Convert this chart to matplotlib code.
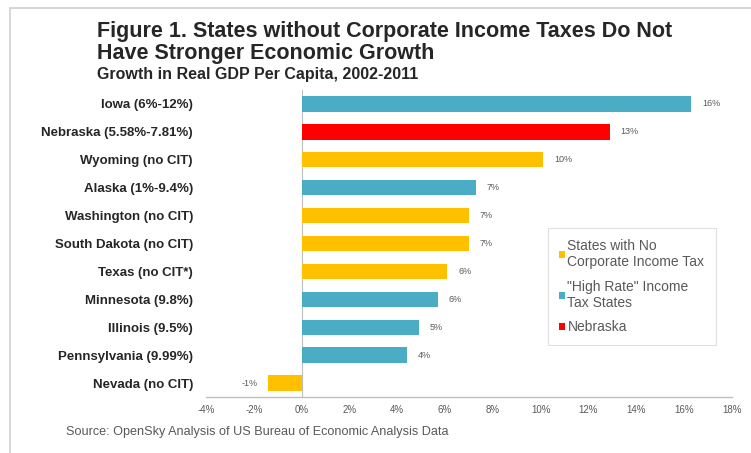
import matplotlib

matplotlib.use("Agg")
import matplotlib.pyplot as plt
from matplotlib.patches import Patch, Rectangle

plt.rcParams["font.family"] = ["Liberation Sans", "DejaVu Sans"]

# data, top to bottom
states = [
    "Iowa (6%-12%)",
    "Nebraska (5.58%-7.81%)",
    "Wyoming (no CIT)",
    "Alaska (1%-9.4%)",
    "Washington (no CIT)",
    "South Dakota (no CIT)",
    "Texas (no CIT*)",
    "Minnesota (9.8%)",
    "Illinois (9.5%)",
    "Pennsylvania (9.99%)",
    "Nevada (no CIT)",
]
growth = [16.3, 12.9, 10.1, 7.3, 7.0, 7.0, 6.1, 5.7, 4.9, 4.4, -1.4]
group = ["high", "ne", "none", "high", "none", "none", "none", "high", "high", "high", "none"]
xticks = list(range(-4, 19, 2))

BLUE = "#4BACC6"
RED = "#FF0000"
GOLD = "#FFC000"
GRAY = "#595959"
DARK = "#262626"
group_colors = {"none": GOLD, "high": BLUE, "ne": RED}
legend_labels = [
    ("none", "States with No\nCorporate Income Tax"),
    ("high", "\"High Rate\" Income\nTax States"),
    ("ne", "Nebraska"),
]

fig = plt.figure(figsize=(7.51, 4.53), dpi=100, facecolor="white")

# outer frame
fig.patches.append(Rectangle((10 / 751, -0.1), 1.2, 1 - 8 / 453 + 0.1,
                             transform=fig.transFigure, fill=False,
                             edgecolor="#CFCFCF", lw=1.2))

ax = fig.add_axes([206 / 751, 1 - 397 / 453, 526 / 751, 307 / 453])
y = list(range(len(states)))
colors = [group_colors[g] for g in group]
ax.barh(y, growth, height=0.55, color=colors, zorder=3)
ax.set_ylim(len(states) - 0.5, -0.5)
ax.set_xlim(-4, 18)
ax.axvline(0, color="#BFBFBF", lw=0.8, zorder=2)

for yi, v in zip(y, growth):
    label = f"{round(v):d}%"
    if v >= 0:
        ax.text(v + 0.45, yi, label, ha="left", va="center", fontsize=6.5, color=GRAY)
    else:
        ax.text(v - 0.45, yi, label, ha="right", va="center", fontsize=6.5, color=GRAY)

ax.set_yticks(y)
ax.set_yticklabels(states, fontsize=9.5, fontweight="bold", color=DARK)
ax.set_xticks(xticks)
ax.set_xticklabels([f"{t}%" for t in xticks], fontsize=7, color=GRAY)
ax.tick_params(axis="both", length=0)
ax.tick_params(axis="y", pad=9.4)
ax.tick_params(axis="x", pad=6)
for side in ("top", "right", "left"):
    ax.spines[side].set_visible(False)
ax.spines["bottom"].set_color("#BFBFBF")
ax.spines["bottom"].set_linewidth(1.0)

handles = [Patch(facecolor=group_colors[k], edgecolor="none") for k, _ in legend_labels]
leg = fig.legend(handles, [t for _, t in legend_labels],
                 loc="upper left", bbox_to_anchor=(548 / 751, 1 - 228 / 453),
                 frameon=True, fancybox=False, fontsize=10, labelcolor=GRAY,
                 handlelength=0.4, handleheight=0.4, handletextpad=0.2,
                 borderpad=0.8, labelspacing=0.75, borderaxespad=0)
leg.get_frame().set_edgecolor("#D9D9D9")
leg.get_frame().set_linewidth(0.8)

fig.text(97 / 751, 1 - 31 / 453, "Figure 1. States without Corporate Income Taxes Do Not",
         fontsize=15.5, fontweight="bold", color=DARK, va="center", ha="left")
fig.text(97 / 751, 1 - 53 / 453, "Have Stronger Economic Growth",
         fontsize=15.5, fontweight="bold", color=DARK, va="center", ha="left")
fig.text(97 / 751, 1 - 75 / 453, "Growth in Real GDP Per Capita, 2002-2011",
         fontsize=11.5, fontweight="bold", color=DARK, va="center", ha="left")
fig.text(66 / 751, 1 - 432 / 453, "Source: OpenSky Analysis of US Bureau of Economic Analysis Data",
         fontsize=9.1, color=GRAY, va="center", ha="left")

fig.savefig("out.png", dpi=100, facecolor="white")
